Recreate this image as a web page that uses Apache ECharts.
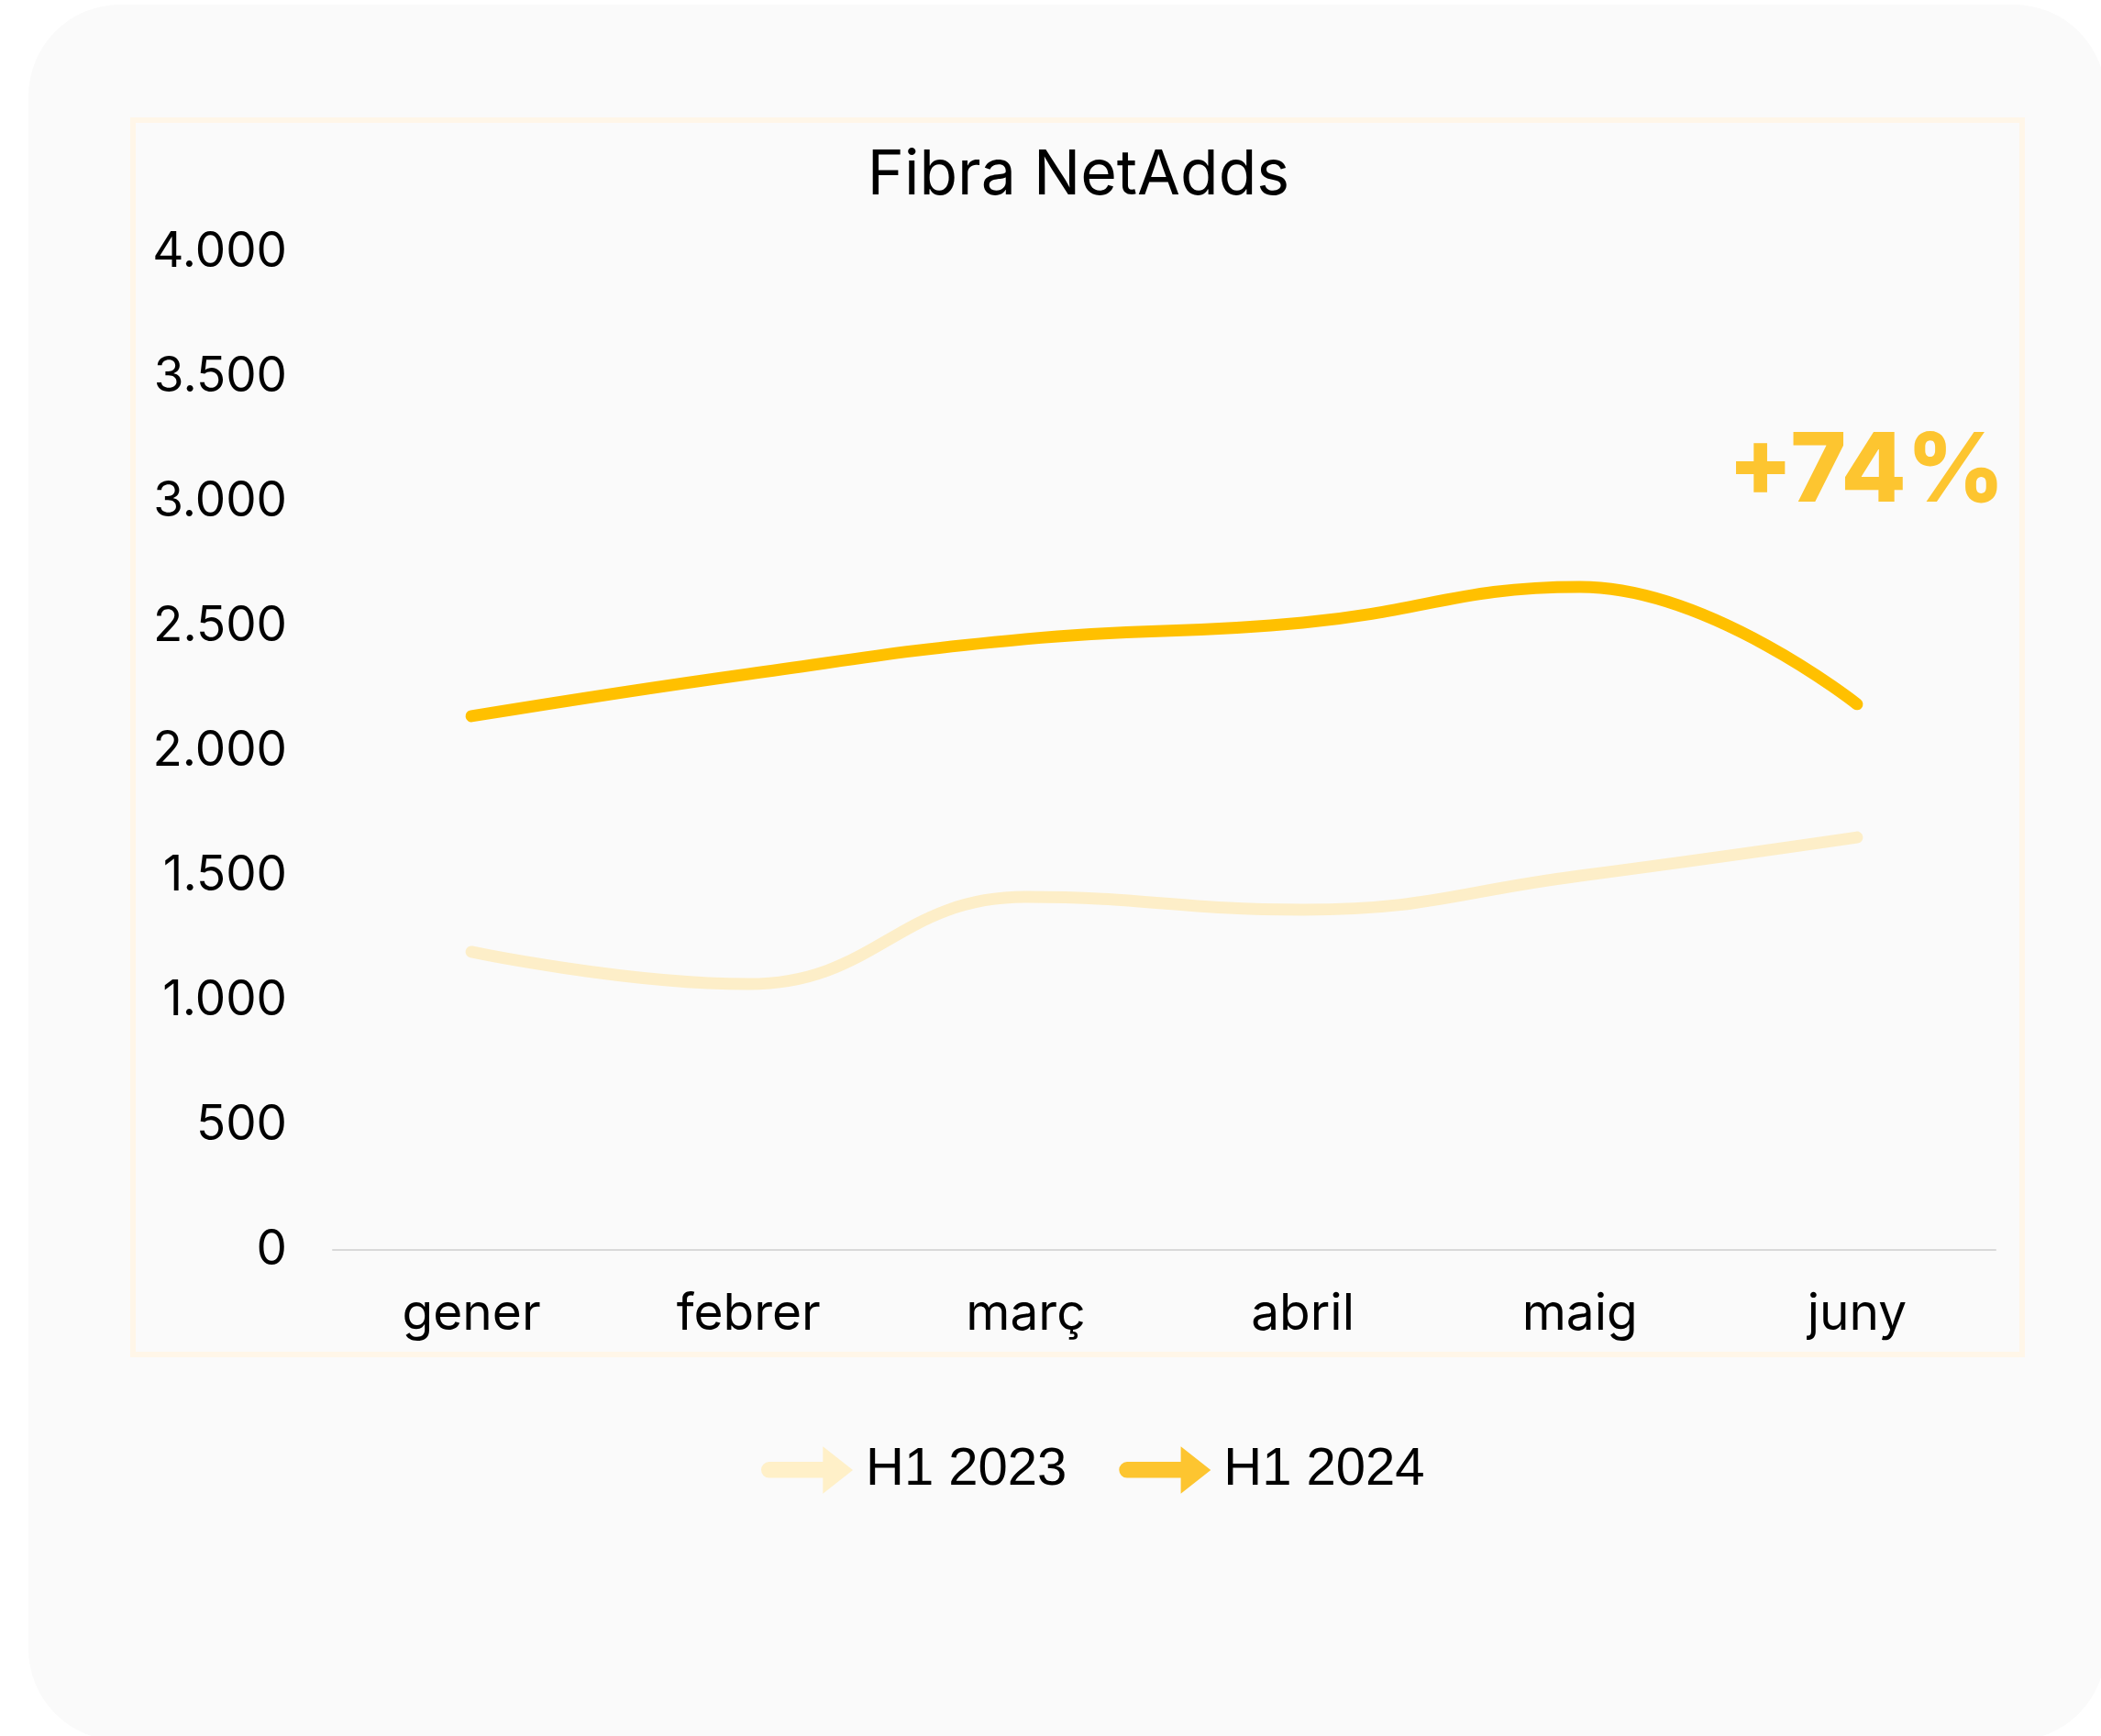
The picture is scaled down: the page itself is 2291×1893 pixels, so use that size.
<!DOCTYPE html>
<html>
<head>
<meta charset="utf-8">
<script src="https://cdn.jsdelivr.net/npm/echarts@6/dist/echarts.min.js"></script>
<style>
html,body{margin:0;padding:0;background:#ffffff;}
#chart{width:2291px;height:1893px;}
</style>
</head>
<body>
<div id="chart"></div>
<script>
const months = ['gener', 'febrer', 'març', 'abril', 'maig', 'juny'];
const seriesNames = ['H1 2023', 'H1 2024'];
const values2023 = [1195, 1066, 1415, 1364, 1500, 1654];
const values2024 = [2140, 2309, 2449, 2515, 2658, 2188];
const yTicks = [0, 500, 1000, 1500, 2000, 2500, 3000, 3500, 4000];
const titleText = 'Fibra NetAdds';
const growthText = '+74%';

const arrowIcon = 'path://M10,35 L132,35 L132,0 L200,53.5 L132,107 L132,71 L10,71 A18,18 0 0 1 10,35 Z';

function fmtThousands(v) {
  return String(v).replace(/\B(?=(\d{3})+(?!\d))/g, '.');
}

const chart = echarts.init(document.getElementById('chart'), null, {renderer: 'canvas'});
const option = {
  backgroundColor: '#ffffff',
  animation: false,
  graphic: [
    {
      type: 'rect', z: -10, silent: true,
      shape: {x: 31, y: 5, width: 2265, height: 1893, r: 100},
      style: {fill: '#fafafa'}
    },
    {
      type: 'rect', z: -9, silent: true,
      shape: {x: 145, y: 131, width: 2060, height: 1346},
      style: {fill: '#fafafa', stroke: '#fff6e8', lineWidth: 6}
    },
    {
      type: 'text', z: 10,
      x: 2035, y: 516,
      style: {
        text: growthText,
        fill: '#fdc530',
        font: '800 104px Inter',
        align: 'center',
        verticalAlign: 'middle'
      }
    }
  ],
  title: {
    text: titleText,
    left: 1176,
    top: 158,
    textAlign: 'center',
    padding: 0,
    textStyle: {fontFamily: 'Inter', fontSize: 68, fontWeight: 400, color: '#000000'}
  },
  legend: {
    data: seriesNames,
    left: 825,
    top: 1569,
    itemWidth: 100,
    itemHeight: 52,
    itemGap: 57,
    icon: arrowIcon,
    textStyle: {fontFamily: 'Liberation Sans', fontSize: 58, color: '#000000', padding: [0, 0, 0, 9]}
  },
  grid: {left: 363, right: 115, top: 275, bottom: 530, containLabel: false},
  xAxis: {
    type: 'category',
    data: months,
    boundaryGap: true,
    axisLine: {show: true, lineStyle: {color: '#d9d9d9', width: 2}},
    axisTick: {show: false},
    axisLabel: {fontFamily: 'Inter', fontSize: 55, color: '#000000', margin: 43}
  },
  yAxis: {
    type: 'value',
    min: 0,
    max: 4000,
    interval: 500,
    axisLine: {show: false},
    axisTick: {show: false},
    splitLine: {show: false},
    axisLabel: {
      fontFamily: 'Inter', fontSize: 53, color: '#000000', margin: 50,
      formatter: function (v) { return yTicks.indexOf(v) >= 0 ? fmtThousands(v) : ''; }
    }
  },
  series: [
    {
      name: seriesNames[0],
      type: 'line',
      data: values2023,
      smooth: 0.45,
      showSymbol: false,
      color: '#fdeec8',
      lineStyle: {width: 13, color: '#fdeec8', cap: 'round', join: 'round'},
      itemStyle: {color: '#fff0c8'},
      z: 2
    },
    {
      name: seriesNames[1],
      type: 'line',
      data: values2024,
      smooth: 0.45,
      showSymbol: false,
      color: '#ffc000',
      lineStyle: {width: 13, color: '#ffc000', cap: 'round', join: 'round'},
      itemStyle: {color: '#fdc530'},
      z: 3
    }
  ]
};
chart.setOption(option);
</script>
</body>
</html>
